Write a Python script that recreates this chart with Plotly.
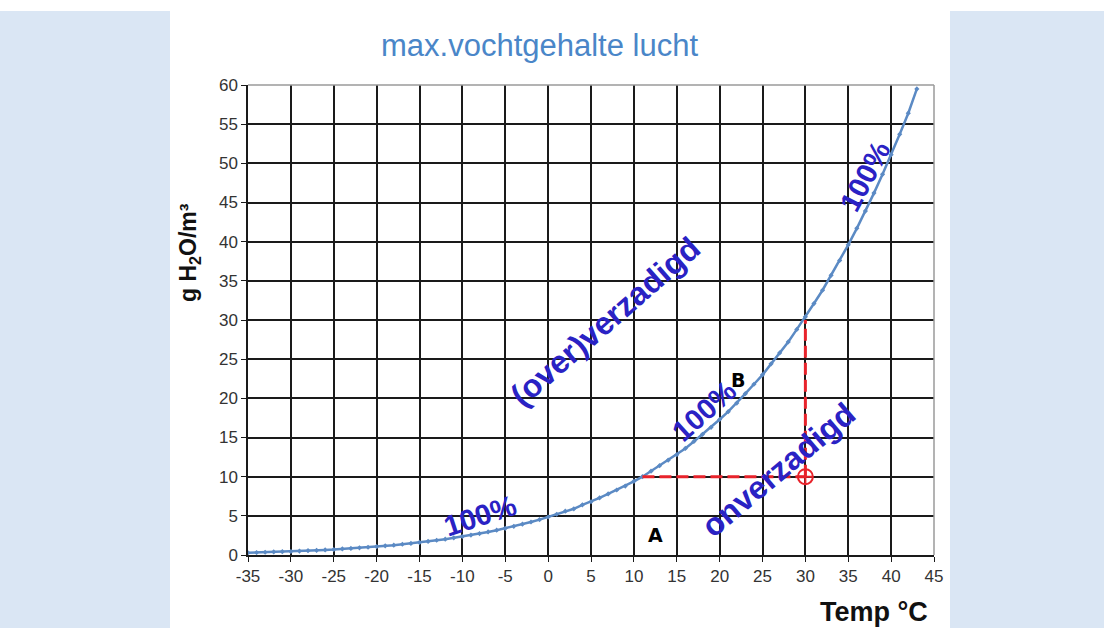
import plotly.graph_objects as go

# Temperature (°C) and maximum water vapour content (g H2O / m3)
temps = list(range(-35, 44))
vocht = [0.29, 0.32, 0.35, 0.39, 0.42, 0.45, 0.50, 0.55, 0.60, 0.65,
         0.70, 0.77, 0.84, 0.91, 0.99, 1.07, 1.17, 1.26, 1.37, 1.48,
         1.60, 1.73, 1.88, 2.02, 2.19, 2.36, 2.54, 2.74, 2.94, 3.17,
         3.41, 3.66, 3.93, 4.21, 4.52, 4.85, 5.2, 5.6, 5.9, 6.4,
         6.8, 7.3, 7.8, 8.3, 8.8, 9.4, 10.0, 10.7, 11.4, 12.1,
         12.8, 13.6, 14.5, 15.4, 16.3, 17.3, 18.3, 19.4, 20.6, 21.8,
         23.0, 24.4, 25.8, 27.2, 28.8, 30.4, 32.1, 33.8, 35.7, 37.6,
         39.6, 41.7, 43.9, 46.2, 48.6, 51.1, 53.7, 56.4, 59.5]

x_ticks = list(range(-35, 50, 5))
y_ticks = list(range(0, 65, 5))

# red helper lines: point (30 °C, 10 g) and its dew point / saturation
hline_x = [11, 30]
hline_y = [10, 10]
vline_x = [30, 30]
vline_y = [10, 30]
punt_x = [30]
punt_y = [10]

# text labels: (text, x, y, angle, size)
labels = [
    ("100%", -8.0, 5.0, -18, 29),
    ("100%", 18.2, 18.4, -42, 29),
    ("100%", 36.9, 48.3, -62, 29),
    ("(over)verzadigd", 6.6, 29.8, -41, 32),
    ("onverzadigd", 26.8, 10.9, -40, 32),
]
letters = [("A", 12.5, 2.5), ("B", 22.2, 22.3)]

blue_line = "#5b8ac4"
label_blue = "#2a22c4"
red = "#e8232b"
FONT = "Liberation Sans, Arial"

fig = go.Figure()

fig.add_trace(go.Scatter(
    x=temps, y=vocht, mode="lines+markers",
    line=dict(color=blue_line, width=2.5),
    marker=dict(symbol="diamond", size=4, color=blue_line),
    showlegend=False, hoverinfo="skip"))

fig.add_trace(go.Scatter(x=hline_x, y=hline_y, mode="lines",
                         line=dict(color=red, width=3, dash="12px,5px"),
                         showlegend=False, hoverinfo="skip"))
fig.add_trace(go.Scatter(x=vline_x, y=vline_y, mode="lines",
                         line=dict(color=red, width=3, dash="12px,5px"),
                         showlegend=False, hoverinfo="skip"))
fig.add_trace(go.Scatter(x=punt_x, y=punt_y, mode="markers",
                         marker=dict(symbol="circle-cross-open", size=15,
                                     color=red, line=dict(width=2, color=red)),
                         showlegend=False, hoverinfo="skip"))

for txt, x, y, ang, sz in labels:
    fig.add_annotation(x=x, y=y, xref="x", yref="y", text=f"<b>{txt}</b>",
                       showarrow=False, textangle=ang,
                       xanchor="center", yanchor="middle",
                       font=dict(family=FONT, size=sz, color=label_blue))
for txt, x, y in letters:
    fig.add_annotation(x=x, y=y, xref="x", yref="y", text=f"<b>{txt}</b>",
                       showarrow=False, xanchor="center", yanchor="middle",
                       font=dict(family="DejaVu Sans, Arial", size=19, color="#000000"))

# background panels
panel_blue = "#dae6f4"
fig.add_shape(type="rect", xref="paper", yref="paper",
              x0=-248/686, x1=-78/686, y0=-73/470, y1=(628-11-73)/470,
              fillcolor=panel_blue, line=dict(width=0), layer="below")
fig.add_shape(type="rect", xref="paper", yref="paper",
              x0=(950-248)/686, x1=(1104-248)/686, y0=-73/470, y1=(628-11-73)/470,
              fillcolor=panel_blue, line=dict(width=0), layer="below")
# grey top / right border
fig.add_shape(type="line", xref="paper", yref="paper", x0=0, x1=1, y0=1, y1=1,
              line=dict(color="#9a9a9a", width=1.5))
fig.add_shape(type="line", xref="paper", yref="paper", x0=1, x1=1, y0=0, y1=1,
              line=dict(color="#9a9a9a", width=1.5))

fig.add_annotation(xref="paper", yref="paper", x=(539-248)/686, y=(555-45)/470,
                   text="max.vochtgehalte lucht", showarrow=False,
                   xanchor="center", yanchor="middle",
                   font=dict(family=FONT, size=31, color="#4a86c8"))
fig.add_annotation(xref="paper", yref="paper", x=(874-248)/686, y=(555-612)/470,
                   text="<b>Temp °C</b>", showarrow=False,
                   xanchor="center", yanchor="middle",
                   font=dict(family=FONT, size=27, color="#111111"))
fig.add_annotation(xref="paper", yref="paper", x=(190-248)/686, y=(555-253)/470,
                   text="<b>g H<sub>2</sub>O/m³</b>", showarrow=False, textangle=-90,
                   xanchor="center", yanchor="middle",
                   font=dict(family=FONT, size=23, color="#111111"))

axis_common = dict(showgrid=True, gridcolor="#1a1a1a", gridwidth=1.5,
                   showline=True, linecolor="#1a1a1a", linewidth=1.5,
                   ticks="outside", ticklen=5, tickcolor="#1a1a1a",
                   tickfont=dict(family=FONT, size=17, color="#333333"),
                   zeroline=False, fixedrange=True)

fig.update_layout(
    width=1104, height=628,
    margin=dict(l=248, r=170, t=85, b=73),
    paper_bgcolor="white", plot_bgcolor="white",
    xaxis=dict(range=[-35, 45], tickvals=x_ticks, ticktext=[str(v) for v in x_ticks],
               **axis_common),
    yaxis=dict(range=[0, 60], tickvals=y_ticks, ticktext=[str(v) for v in y_ticks],
               **axis_common),
)

fig.write_html("out.html", config={"displayModeBar": False},
               post_script="document.body.style.margin='0';document.body.style.overflow='hidden';")
